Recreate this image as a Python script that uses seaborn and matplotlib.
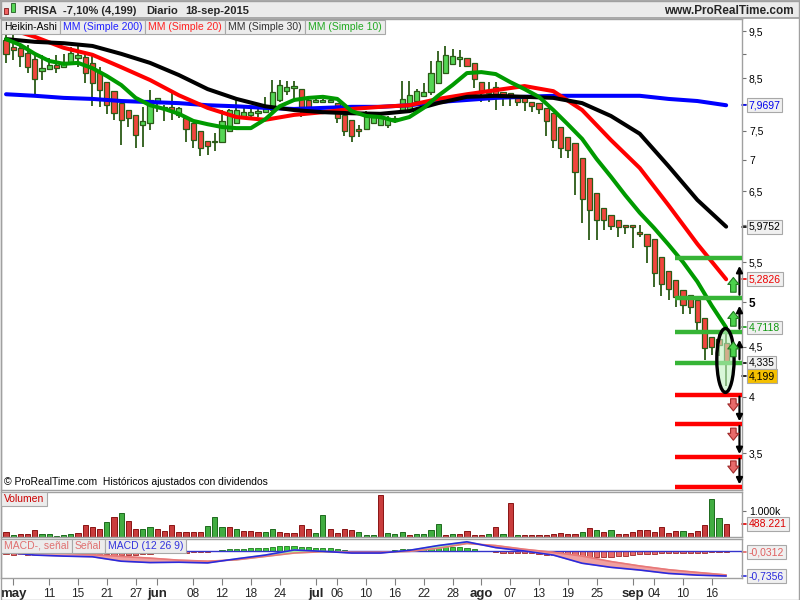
import matplotlib
matplotlib.use("Agg")
import matplotlib.pyplot as plt
import matplotlib.transforms as mtransforms
from matplotlib.patches import Rectangle, Ellipse
from matplotlib.ticker import FixedLocator, NullLocator
import numpy as np
import pandas as pd
import seaborn as sns

sns.set_theme(style="white")
plt.rcParams['font.family'] = ['Liberation Sans', 'DejaVu Sans']

# sesiones 30-abr .. 18-sep-2015 (1 de mayo mercado cerrado)
days = pd.bdate_range("2015-04-30", "2015-09-18")
days = days[days != pd.Timestamp("2015-05-01")]
idx = np.arange(len(days))

# velas Heikin-Ashi
ha_open = [9.30, 9.15, 9.13, 9.02, 8.89, 8.64, 8.68, 8.77, 8.73, 8.81,
           8.91, 8.93, 8.81, 8.62, 8.42, 8.24, 8.01, 7.88, 7.79, 7.61,
           7.65, 8.01, 7.90, 7.94, 7.79, 7.74, 7.65, 7.50, 7.33, 7.30,
           7.31, 7.50, 7.65, 7.77, 7.79, 7.83, 7.84, 7.88, 8.07, 8.24,
           8.30, 8.28, 8.07, 8.03, 8.03, 8.03, 8.01, 7.79, 7.70, 7.54,
           7.54, 7.65, 7.61, 7.61, 7.68, 7.86, 7.86, 8.05, 8.15, 8.22,
           8.40, 8.60, 8.79, 8.89, 8.91, 8.81, 8.42, 8.26, 8.32, 8.22,
           8.20, 8.11, 8.11, 8.03, 8.01, 7.92, 7.83, 7.57, 7.39, 7.29,
           7.03, 6.71, 6.47, 6.25, 6.15, 6.07, 6.01, 6.01, 5.90, 5.88,
           5.81, 5.57, 5.38, 5.27, 5.15, 5.09, 5.03, 4.82, 4.61, 4.58,
           4.54]
ha_close = [9.00, 9.08, 8.95, 8.73, 8.48, 8.70, 8.77, 8.70, 8.83, 9.02,
            8.97, 8.60, 8.40, 8.26, 7.98, 7.83, 7.70, 7.74, 7.43, 7.67,
            8.07, 8.11, 7.94, 7.88, 7.92, 7.54, 7.34, 7.20, 7.24, 7.33,
            7.68, 7.88, 7.88, 7.84, 7.84, 7.86, 7.92, 8.22, 8.36, 8.32,
            8.34, 7.94, 7.94, 8.07, 8.07, 8.07, 7.74, 7.50, 7.41, 7.50,
            7.79, 7.75, 7.74, 7.74, 7.74, 8.09, 8.17, 8.24, 8.22, 8.60,
            8.85, 8.97, 8.95, 8.93, 8.75, 8.48, 8.24, 8.20, 8.17, 8.13,
            8.13, 8.03, 8.03, 7.96, 7.90, 7.67, 7.34, 7.20, 7.17, 6.81,
            6.38, 6.22, 6.07, 6.07, 5.99, 5.97, 5.97, 5.97, 5.87, 5.71,
            5.36, 5.22, 5.16, 5.06, 4.97, 4.94, 4.77, 4.49, 4.50, 4.52,
            4.34]
ha_high = [9.41, 9.41, 9.23, 9.19, 8.97, 8.97, 8.91, 8.97, 8.99, 9.15,
           9.17, 8.99, 9.02, 8.72, 8.42, 8.24, 8.01, 7.88, 7.79, 7.94,
           8.26, 8.11, 7.98, 8.20, 7.94, 7.74, 7.65, 7.50, 7.33, 7.47,
           7.88, 7.90, 8.09, 7.92, 7.92, 7.92, 8.13, 8.46, 8.46, 8.44,
           8.44, 8.28, 8.13, 8.09, 8.09, 8.09, 8.01, 7.84, 7.70, 7.61,
           7.86, 7.81, 7.79, 7.77, 7.77, 8.44, 8.44, 8.28, 8.40, 8.85,
           9.06, 9.17, 9.11, 9.08, 8.91, 8.81, 8.42, 8.42, 8.42, 8.22,
           8.20, 8.11, 8.11, 8.03, 8.01, 7.92, 7.83, 7.57, 7.39, 7.29,
           7.03, 6.71, 6.47, 6.25, 6.15, 6.07, 6.01, 6.01, 6.01, 5.88,
           5.81, 5.57, 5.38, 5.27, 5.15, 5.09, 5.03, 4.82, 4.61, 4.64,
           4.65]
ha_low = [8.81, 8.87, 8.73, 8.60, 8.17, 8.46, 8.68, 8.60, 8.73, 8.81,
          8.73, 8.40, 7.96, 7.94, 7.80, 7.70, 7.26, 7.57, 7.20, 7.22,
          7.52, 7.84, 7.67, 7.70, 7.74, 7.31, 7.20, 7.07, 7.09, 7.15,
          7.30, 7.50, 7.65, 7.74, 7.72, 7.75, 7.83, 7.84, 8.03, 8.17,
          8.03, 7.75, 7.88, 8.01, 8.01, 8.01, 7.65, 7.41, 7.31, 7.39,
          7.52, 7.63, 7.59, 7.56, 7.65, 7.84, 7.84, 8.03, 8.15, 8.17,
          8.40, 8.60, 8.79, 8.72, 8.72, 8.30, 8.03, 8.03, 7.88, 7.96,
          7.96, 7.96, 7.86, 7.84, 7.81, 7.41, 7.20, 7.04, 7.04, 6.45,
          6.03, 5.80, 5.80, 5.93, 5.93, 5.83, 5.87, 5.68, 5.83, 5.49,
          5.19, 5.08, 5.03, 4.94, 4.86, 4.86, 4.65, 4.36, 4.41, 4.40,
          4.10]

# medias moviles, leidas cada 4 sesiones (la de 10, cada 2)
ma_x = idx[::4]
ma10_x = idx[::2]
ma200 = [8.18, 8.15, 8.11, 8.09, 8.05, 8.03, 8.01, 7.97, 7.95, 7.92, 7.90, 7.92, 7.94,
         7.94, 7.97, 8.03, 8.07, 8.11, 8.13, 8.15, 8.15, 8.15, 8.15, 8.09, 8.05, 7.97]
ma20 = [9.57, 9.37, 9.13, 8.98, 8.72, 8.46, 8.16, 7.92, 7.75, 7.70, 7.79, 7.84, 7.90,
        7.94, 7.97, 8.09, 8.18, 8.26, 8.34, 8.24, 7.88, 7.34, 6.87, 6.29, 5.74, 5.28]
ma30 = [9.32, 9.26, 9.23, 9.17, 9.00, 8.81, 8.56, 8.28, 8.09, 7.95, 7.88, 7.84, 7.82,
        7.81, 7.86, 8.01, 8.13, 8.15, 8.13, 8.11, 8.01, 7.77, 7.45, 6.90, 6.37, 5.98]
ma10 = [9.32, 9.19, 9.00, 8.85, 8.79, 8.81, 8.70, 8.54, 8.36, 8.11,
        7.97, 7.90, 7.81, 7.68, 7.62, 7.57, 7.55, 7.55, 7.71, 7.95,
        8.07, 8.11, 8.13, 8.09, 7.86, 7.77, 7.75, 7.68, 7.75, 7.92,
        8.15, 8.36, 8.60, 8.62, 8.58, 8.42, 8.28, 8.13, 7.88, 7.62,
        7.36, 7.02, 6.73, 6.44, 6.18, 5.96, 5.73, 5.50, 5.25, 4.96,
        4.71]

# volumen (miles de titulos) y color de cada barra
vol_k = [190, 80, 100, 100, 260, 100, 100, 40, 80, 100,
         140, 450, 360, 290, 580, 770, 910, 620, 290, 290,
         360, 290, 230, 460, 190, 190, 190, 190, 420, 770,
         380, 380, 290, 230, 230, 190, 190, 290, 190, 170,
         170, 460, 290, 140, 850, 290, 140, 320, 260, 190,
         80, 80, 1580, 170, 100,
         190, 60, 100, 100, 260, 500, 60, 100, 100, 210,
         60, 60, 100, 380, 100, 1280, 60, 60, 60, 60,
         60, 100, 150, 100, 120, 190, 330, 260, 190, 270,
         120, 120, 190, 270, 270, 190, 380, 170, 230, 230,
         170, 230, 450, 1450, 730, 488.221]
vol_dir = ("rgrrrggggg" "rrrrgrgrrg" "grrrrrrrgg" "grgrrrggrr" "rrrggrrrrg" "ggrgg"
           "grggggrgrr" "rrgrgrgrrr" "rrrrrgrgrg" "rrrrrrrrrg" "rrrggr")

# MACD (12 26 9), cada 4 sesiones, e histograma diario
macd = [-0.04, -0.12, -0.15, -0.17, -0.30, -0.34, -0.33, -0.35, -0.23, -0.12, 0.03, -0.01, -0.06,
        -0.06, 0.02, 0.16, 0.27, 0.10, 0.00, -0.12, -0.36, -0.48, -0.56, -0.66, -0.71, -0.7356]
signal = [0.02, -0.02, -0.06, -0.11, -0.16, -0.21, -0.27, -0.30, -0.26, -0.16, -0.06, -0.02, -0.04,
          -0.04, -0.01, 0.08, 0.22, 0.16, 0.05, -0.04, -0.15, -0.31, -0.44, -0.55, -0.63, -0.704]
macd_hist = [-0.10, -0.11, -0.10, -0.12, -0.11, -0.10, -0.09, -0.07, -0.06, -0.06,
             -0.07, -0.08, -0.08, -0.09, -0.10, -0.11, -0.12, -0.12, -0.11, -0.09,
             -0.08, -0.07, -0.06, -0.06, -0.05, -0.05, -0.04, -0.03, -0.03, -0.01,
             0.03, 0.06, 0.07, 0.07, 0.09, 0.10, 0.10, 0.13, 0.14, 0.14,
             0.14, 0.13, 0.12, 0.09, 0.08, 0.08, 0.07, 0.02, -0.03, -0.04,
             -0.04, -0.03, -0.02, -0.02, 0.03, 0.06, 0.07, 0.07, 0.07, 0.09,
             0.10, 0.13, 0.13, 0.11, 0.10, 0.05, 0.01, -0.01, -0.04, -0.05,
             -0.05, -0.05, -0.07, -0.07, -0.08, -0.11, -0.13, -0.14, -0.15, -0.19,
             -0.21, -0.20, -0.19, -0.19, -0.18, -0.15, -0.14, -0.11, -0.10, -0.10,
             -0.08, -0.07, -0.07, -0.07, -0.06, -0.06, -0.05, -0.05, -0.04, -0.04,
             -0.0312]

# niveles dibujados a mano
green_levels = [5.55, 5.05, 4.66, 4.335]
red_levels = [4.02, 3.75, 3.47, 3.23]

price_tags = [(7.9697, "7,9697", "#0000ee", "#f0f0f0"),
              (5.9752, "5,9752", "#000000", "#f0f0f0"),
              (5.2826, "5,2826", "#ee0000", "#f0f0f0"),
              (4.7118, "4,7118", "#119911", "#f0f0f0"),
              (4.335, "4,335", "#000000", "#f0f0f0"),
              (4.199, "4,199", "#000000", "#f5c000")]

tick_dates = ["2015-05-04", "2015-05-11", "2015-05-15", "2015-05-21", "2015-05-27",
              "2015-06-01", "2015-06-08", "2015-06-12", "2015-06-18", "2015-06-24",
              "2015-07-01", "2015-07-06", "2015-07-10", "2015-07-16", "2015-07-22",
              "2015-07-28", "2015-08-03", "2015-08-07", "2015-08-13", "2015-08-19",
              "2015-08-25", "2015-09-01", "2015-09-04", "2015-09-10", "2015-09-16"]
meses = {5: "may", 6: "jun", 7: "jul", 8: "ago", 9: "sep"}

W, H = 800, 600
fig = plt.figure(figsize=(8, 6), dpi=100)


def frac(x0, y0, x1, y1):
    return [x0 / W, 1 - y1 / H, (x1 - x0) / W, (y1 - y0) / H]


GRID = "#a0a0a0"
ax = fig.add_axes(frac(1, 19, 742, 490))
axv = fig.add_axes(frac(1, 492, 742, 537))
axm = fig.add_axes(frac(1, 539, 742, 578))
for a in (ax, axv, axm):
    a.set_xlim(-0.7, 102.2)
    for s in a.spines.values():
        s.set_color(GRID)
        s.set_linewidth(1)
    a.yaxis.tick_right()
    a.tick_params(axis='y', which='both', direction='out', length=3, width=0.8,
                  color='#707070', labelsize=7.5, pad=2, labelcolor='black')
    a.set_xlabel("")
    a.set_ylabel("")
for a in (ax, axv):
    a.set_xticks([])

# ---- precio ----
o = np.array(ha_open)
c = np.array(ha_close)
up = c >= o
ax.set_yscale('log')
ax.set_ylim(3.207, 9.774)
ax.vlines(idx, ha_low, ha_high, color='#2b5a16', lw=1.3, zorder=2)
ax.bar(idx, np.maximum(np.abs(c - o), 0.025), bottom=np.minimum(o, c), width=0.72,
       color=np.where(up, '#55d655', '#f2453d'), edgecolor='#2b5a16', linewidth=0.9, zorder=3)

for xs, vals, col in [(ma_x, ma200, '#0000ff'), (ma_x, ma20, '#ff0000'),
                      (ma_x, ma30, '#000000'), (ma10_x, ma10, '#009a00')]:
    sns.lineplot(x=xs, y=vals, ax=ax, color=col, linewidth=2.9, zorder=4)

ax.hlines(green_levels, 92.9, 102.3, color='#36b436', lw=3.2, zorder=5)
ax.hlines(red_levels, 92.9, 102.3, color='#ff0000', lw=3.2, zorder=5)

ax.add_patch(Ellipse((99.9, 4.37), 2.4, 0.66, fc=(0.75, 0.95, 0.75, 0.6), ec='black',
                     lw=2.4, zorder=6))

xb, xa = 101.85, 101.0
for k in range(3):
    ax.annotate("", xy=(xb, green_levels[k] * 0.982), xytext=(xb, green_levels[k + 1] * 1.008),
                arrowprops=dict(arrowstyle='-|>', color='black', lw=1.6, mutation_scale=9,
                                shrinkA=0, shrinkB=0), zorder=7)
    ax.annotate("", xy=(xa, green_levels[k + 1] * 1.05), xytext=(xa, green_levels[k + 1] * 1.014),
                arrowprops=dict(arrowstyle='simple,head_length=0.5,head_width=0.8,tail_width=0.4',
                                fc='#4cd24c', ec='#1f7a1f', lw=0.8, mutation_scale=10,
                                shrinkA=0, shrinkB=0), zorder=7)
    ax.annotate("", xy=(xb, red_levels[k + 1] * 1.006), xytext=(xb, red_levels[k] * 0.995),
                arrowprops=dict(arrowstyle='-|>', color='black', lw=1.6, mutation_scale=9,
                                shrinkA=0, shrinkB=0), zorder=7)
    ax.annotate("", xy=(xa, red_levels[k] * 0.962), xytext=(xa, red_levels[k] * 0.99),
                arrowprops=dict(arrowstyle='simple,head_length=0.5,head_width=0.8,tail_width=0.4',
                                fc='#e86a6a', ec='#a02a2a', lw=0.8, mutation_scale=10,
                                shrinkA=0, shrinkB=0), zorder=7)

yt = [3.5, 4, 4.5, 5, 5.5, 6, 6.5, 7, 7.5, 8, 8.5, 9, 9.5]
ax.yaxis.set_major_locator(FixedLocator(yt))
ax.yaxis.set_minor_locator(NullLocator())
ax.set_yticklabels(["3,5", "4", "4,5", "5", "5,5", "", "6,5", "7", "7,5", "", "8,5", "", "9,5"])
ax.get_yticklabels()[3].set_fontweight('bold')
ax.get_yticklabels()[3].set_fontsize(8.5)


def side_tag(axis, y, text, color, fc):
    tr = mtransforms.blended_transform_factory(axis.transAxes, axis.transData)
    axis.plot([1.0, 1.006], [y, y], transform=tr, color=color, lw=1.2, clip_on=False)
    axis.text(1.009, y, text, transform=tr, color=color, fontsize=7.5, va='center', ha='left',
              bbox=dict(boxstyle='square,pad=0.18', fc=fc, ec='#a8a8a8', lw=0.8),
              clip_on=False, zorder=10)


for y, t, col, fc in price_tags:
    side_tag(ax, y, t, col, fc)

ax.text(0.004, 0.006, "© ProRealTime.com  Históricos ajustados con dividendos",
        transform=ax.transAxes, fontsize=7.5, va='bottom', ha='left', color='black')

# ---- volumen ----
vol_df = pd.DataFrame({'i': idx, 'v': vol_k, 'd': list(vol_dir)})
sns.barplot(data=vol_df, x='i', y='v', hue='d', palette={'g': '#2fbf2f', 'r': '#e02626'},
            native_scale=True, dodge=False, width=0.72, errorbar=None, legend=False,
            linewidth=0.7, edgecolor='#333333', ax=axv)
for p in axv.patches:
    fcol = p.get_facecolor()
    p.set_edgecolor('#1d6a1d' if fcol[1] > fcol[0] else '#8a1414')
axv.set_xlim(-0.7, 102.2)
axv.set_ylim(0, 1700)
axv.set_xticks([])
axv.set_xlabel("")
axv.set_ylabel("")
axv.set_yticks([1000])
axv.set_yticklabels(["1.000k"])
side_tag(axv, vol_k[-1], "488.221", "#dd0000", "#f0f0f0")

# ---- MACD ----
axm.set_ylim(-0.794, 0.353)
hist = np.array(macd_hist)
axm.bar(idx, hist, width=0.72, color=np.where(hist >= 0, '#3dcc3d', '#e86a6a'),
        edgecolor=np.where(hist >= 0, '#1f7a1f', '#a02a2a'), linewidth=0.6, zorder=2)
axm.axhline(0, color='#3333cc', lw=1, zorder=2.5)
mac = np.array(macd)
sig = np.array(signal)
axm.fill_between(ma_x, mac, sig, where=mac >= sig, interpolate=True, color='#a8eea8', zorder=3)
axm.fill_between(ma_x, mac, sig, where=mac < sig, interpolate=True, color='#f0a0a0', zorder=3)
sns.lineplot(x=ma_x, y=signal, ax=axm, color='#e87878', linewidth=1.2, zorder=4)
sns.lineplot(x=ma_x, y=macd, ax=axm, color='#2a2add', linewidth=1.2, zorder=4)
axm.set_yticks([])
axm.set_xlim(-0.7, 102.2)
side_tag(axm, hist[-1], "-0,0312", "#e06060", "#f0f0f0")
side_tag(axm, macd[-1], "-0,7356", "#2a2add", "#f0f0f0")

tick_pos = [days.get_loc(pd.Timestamp(d)) for d in tick_dates]
tick_lab = []
for p in tick_pos:
    if p == 0 or days[p - 1].month != days[p].month:
        tick_lab.append(meses[days[p].month])
    else:
        tick_lab.append("%02d" % days[p].day)
axm.set_xticks(tick_pos)
axm.set_xticklabels(tick_lab)
axm.tick_params(axis='x', direction='out', length=5, width=0.8, color='#808080',
                labelsize=8.5, pad=2, bottom=True)
for lab in axm.get_xticklabels():
    if lab.get_text() in meses.values():
        lab.set_fontweight('bold')
        lab.set_fontsize(9.5)
axm.set_xlabel("")
axm.set_ylabel("")

# ---- cabecera y cajas de leyenda ----
head = fig.add_axes(frac(0, 0, 800, 18))
head.set_facecolor('#ebebeb')
head.set_xticks([])
head.set_yticks([])
for s in head.spines.values():
    s.set_color(GRID)
fig.add_artist(Rectangle((4 / W, 1 - 14 / H), 4 / W, 6 / H, transform=fig.transFigure,
                         fc='#f06060', ec='#7a1a1a', lw=0.6))
fig.add_artist(Rectangle((11 / W, 1 - 12 / H), 4 / W, 9 / H, transform=fig.transFigure,
                         fc='#55d655', ec='#1f5a1f', lw=0.6))
for x_px, txt in [(23, "PRISA"), (63, "-7,10% (4,199)"), (146, "Diario"), (185, "18-sep-2015")]:
    fig.text(x_px / W, 1 - 11 / H, txt, fontsize=8, fontweight='bold', va='center', ha='left')
fig.text(794 / W, 1 - 11 / H, "www.ProRealTime.com", fontsize=8.5, fontweight='bold',
         va='center', ha='right')

renderer = fig.canvas.get_renderer()


def legend_row(y_px, entries, x_px=1, size=7.5):
    for text, col in entries:
        t = fig.text((x_px + 3) / W, 1 - y_px / H, text, color=col, fontsize=size,
                     va='center', ha='left', zorder=5)
        x1 = t.get_window_extent(renderer).x1 + 3
        fig.add_artist(Rectangle((x_px / W, 1 - (y_px + 7) / H), (x1 - x_px) / W, 14 / H,
                                 transform=fig.transFigure, fc='#ececec', ec='#a8a8a8',
                                 lw=0.8, zorder=4))
        x_px = x1


legend_row(27, [("Heikin-Ashi", "#000000"), ("MM (Simple 200)", "#2222ff"),
                ("MM (Simple 20)", "#ff2222"), ("MM (Simple 30)", "#333333"),
                ("MM (Simple 10)", "#22aa22")])
legend_row(499, [("Volumen", "#cc0000")])
legend_row(546, [("MACD-, señal", "#e07070"), ("Señal", "#e07070"),
                 ("MACD (12 26 9)", "#3333dd")])

fig.add_artist(Rectangle((0.5 / W, 0.5 / H), 798.5 / W, 598.5 / H, transform=fig.transFigure,
                         fill=False, ec=GRID, lw=1))

fig.savefig("out.png", dpi=100)
